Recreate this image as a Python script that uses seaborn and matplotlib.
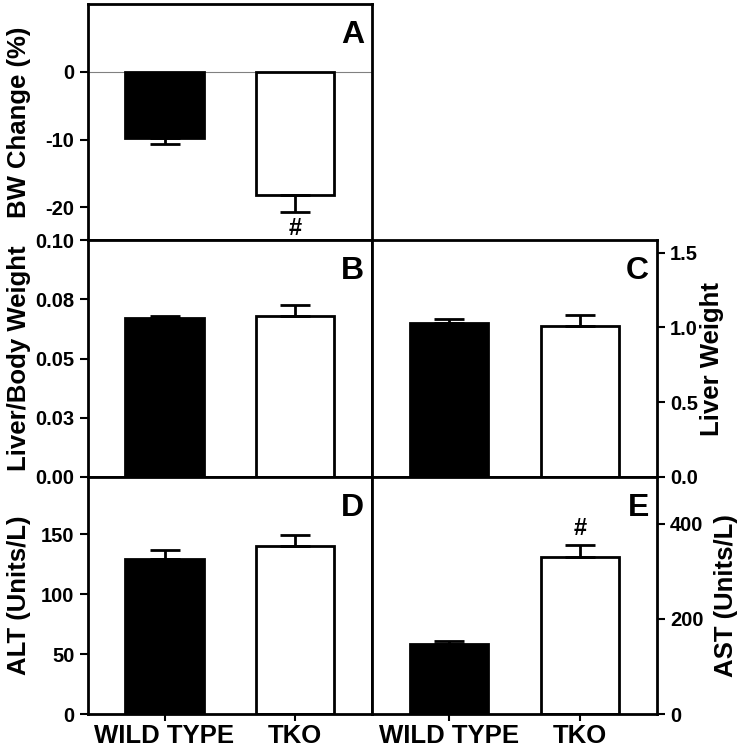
import matplotlib
matplotlib.use("Agg")
import matplotlib.pyplot as plt
import numpy as np
import seaborn as sns

groups = ["WILD TYPE", "TKO"]
bar_colors = ["black", "white"]

bw_change = [-9.8, -18.2]
bw_change_err = [0.9, 2.4]
liver_body = [0.067, 0.068]
liver_body_err = [0.001, 0.0045]
liver_weight = [1.03, 1.007]
liver_weight_err = [0.024, 0.076]
alt = [129.4, 140.3]
alt_err = [7.3, 9.3]
ast = [147, 329]
ast_err = [6, 27]

sns.set_style("white")
plt.rcParams["font.family"] = ["Liberation Sans", "DejaVu Sans"]
plt.rcParams["font.weight"] = "bold"
for key in ["text.color", "axes.labelcolor", "xtick.color", "ytick.color"]:
    plt.rcParams[key] = "black"


def draw_panel(ax, values, errs, ylim, yticks, yticklabels, ylabel, letter,
               side="left", show_x=False, sig=None, label_x=-0.2):
    sns.barplot(x=groups, y=values, hue=groups, palette=bar_colors,
                edgecolor="black", linewidth=2, width=0.6, legend=False,
                errorbar=None, ax=ax, zorder=2)
    vals = np.array(values, dtype=float)
    errs = np.array(errs, dtype=float)
    lower = np.where(vals < 0, errs, 0)
    upper = np.where(vals >= 0, errs, 0)
    ax.errorbar(x=[0, 1], y=vals, yerr=[lower, upper], fmt="none",
                ecolor="black", elinewidth=2, capsize=11, capthick=2, zorder=3)
    ax.set_xlim(-0.587, 1.587)
    ax.set_ylim(*ylim)
    ax.set_yticks(yticks)
    ax.set_yticklabels(yticklabels, fontsize=14.5, fontweight="bold")
    for s in ax.spines.values():
        s.set_visible(True)
        s.set_color("black")
        s.set_linewidth(2)
    if side == "right":
        ax.yaxis.tick_right()
        ax.yaxis.set_label_position("right")
    ax.tick_params(axis="y", direction="out", length=6, width=1.5, pad=3.5,
                   colors="black",
                   left=(side == "left"), right=(side == "right"),
                   labelleft=(side == "left"), labelright=(side == "right"))
    ax.set_ylabel(ylabel, fontsize=18.5, fontweight="bold", color="black")
    ax.yaxis.set_label_coords(label_x, 0.5)
    if show_x:
        ax.set_xticks([0, 1])
        ax.set_xticklabels(groups, fontsize=18.5, fontweight="bold")
        ax.tick_params(axis="x", direction="out", length=5, width=1.5,
                       colors="black", bottom=True, pad=2)
    else:
        ax.set_xticks([])
    ax.set_xlabel("")
    ax.text(0.972, 0.87, letter, transform=ax.transAxes, ha="right",
            va="center", fontsize=23, fontweight="bold", color="black")
    if sig is not None:
        ax.text(sig[0], sig[1], "#", ha="center", va="center",
                fontsize=17, fontweight="bold", color="black")


fig = plt.figure(figsize=(7.44, 7.5), dpi=100)
ax_a = fig.add_axes([0.118, 0.68, 0.382, 0.3147])
ax_b = fig.add_axes([0.118, 0.364, 0.382, 0.316])
ax_c = fig.add_axes([0.5, 0.364, 0.383, 0.316])
ax_d = fig.add_axes([0.118, 0.048, 0.382, 0.316])
ax_e = fig.add_axes([0.5, 0.048, 0.383, 0.316])

ax_a.axhline(0, color="gray", linewidth=0.8, zorder=1)
draw_panel(ax_a, bw_change, bw_change_err, (-24.8, 10), [-20, -10, 0],
           ["-20", "-10", "0"], "BW Change (%)", "A",
           sig=(1, bw_change[1] - bw_change_err[1] - 2.5))
draw_panel(ax_b, liver_body, liver_body_err, (0, 0.1),
           [0, 0.025, 0.05, 0.075, 0.1],
           ["0.00", "0.03", "0.05", "0.08", "0.10"], "Liver/Body Weight", "B")
draw_panel(ax_c, liver_weight, liver_weight_err, (0, 1.585), [0, 0.5, 1.0, 1.5],
           ["0.0", "0.5", "1.0", "1.5"], "Liver Weight", "C",
           side="right", label_x=1.151)
draw_panel(ax_d, alt, alt_err, (0, 198), [0, 50, 100, 150],
           ["0", "50", "100", "150"], "ALT (Units/L)", "D", show_x=True)
draw_panel(ax_e, ast, ast_err, (0, 498), [0, 200, 400],
           ["0", "200", "400"], "AST (Units/L)", "E",
           side="right", show_x=True, label_x=1.2,
           sig=(1, ast[1] + ast_err[1] + 33))

fig.savefig("out.png", dpi=100)
